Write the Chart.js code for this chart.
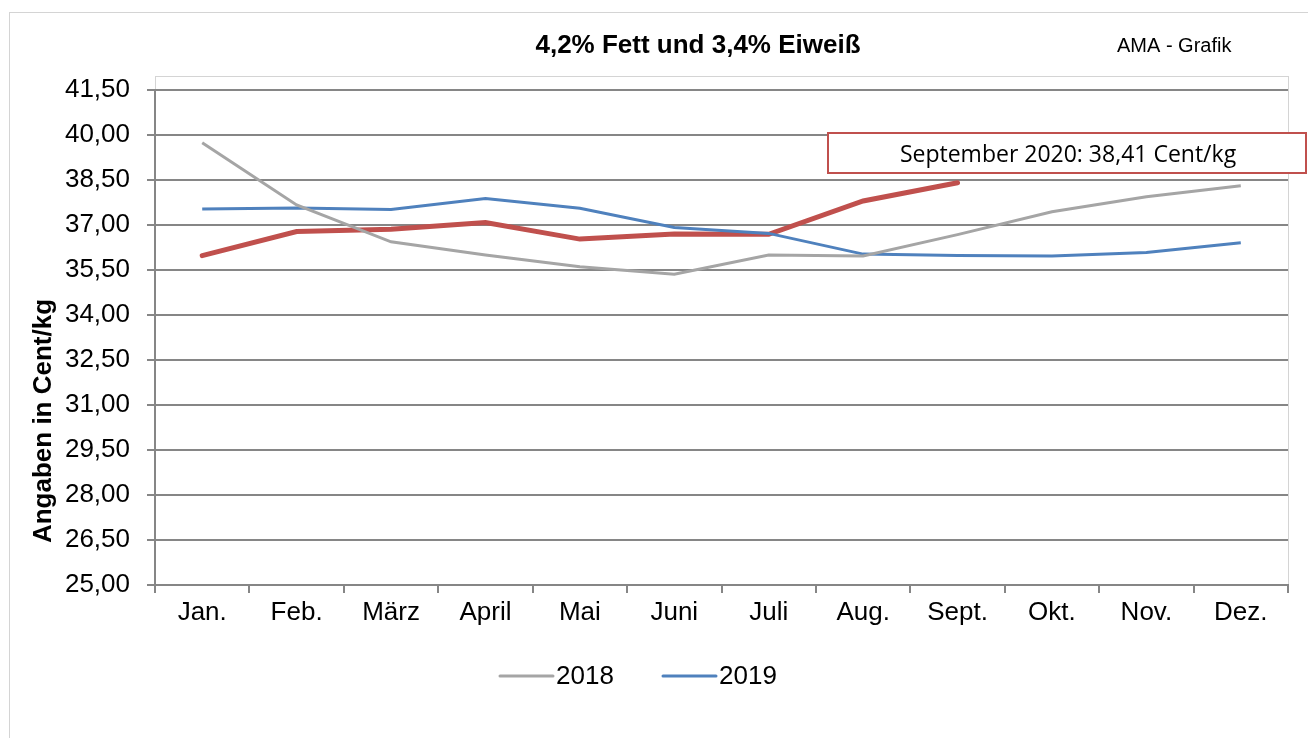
<!DOCTYPE html>
<html>
<head>
<meta charset="utf-8">
<script src="https://cdn.jsdelivr.net/npm/chart.js@4/dist/chart.umd.min.js"></script>
<style>
  html, body { margin: 0; padding: 0; background: #fff; }
  #wrap { width: 1308px; height: 738px; position: relative; }
</style>
</head>
<body>
<div id="wrap"><canvas id="myChart" width="1308" height="738"></canvas></div>
<script>
// Daten (Cent/kg)
const monate = ['Jan.', 'Feb.', 'März', 'April', 'Mai', 'Juni', 'Juli', 'Aug.', 'Sept.', 'Okt.', 'Nov.', 'Dez.'];
const werte2018 = [39.74, 37.67, 36.44, 36.0, 35.61, 35.36, 36.0, 35.97, 36.68, 37.44, 37.94, 38.31];
const werte2019 = [37.53, 37.57, 37.52, 37.88, 37.56, 36.92, 36.72, 36.03, 35.98, 35.97, 36.08, 36.41];
const werte2020 = [35.98, 36.78, 36.86, 37.08, 36.53, 36.7, 36.69, 37.8, 38.41];
const yTicks = [25, 26.5, 28, 29.5, 31, 32.5, 34, 35.5, 37, 38.5, 40, 41.5];

const titel = '4,2% Fett und 3,4% Eiweiß';
const quelle = 'AMA - Grafik';
const hinweis = 'September 2020: 38,41 Cent/kg';
const yTitel = 'Angaben in Cent/kg';

const schrift = '"Liberation Sans", Arial, sans-serif';

// Rahmen, Titel, Legende und Textfeld
const deko = {
  id: 'deko',
  beforeDraw(chart) {
    const c = chart.ctx;
    const a = chart.chartArea;
    c.save();
    c.strokeStyle = '#d4d4d4';
    c.lineWidth = 1;
    c.strokeRect(9.5, 12.5, 1400, 800);
    // Rahmen der Zeichnungsfläche
    c.strokeRect(a.left + 0.5, a.top - 14 + 0.5, a.right - a.left, a.bottom - a.top + 14);
    c.restore();
  },
  afterDraw(chart) {
    const c = chart.ctx;
    c.save();
    c.fillStyle = '#000';
    c.textBaseline = 'middle';
    c.textAlign = 'center';
    c.font = 'bold 26px ' + schrift;
    c.fillText(titel, 698, 46);

    // Achsentitel (sitzt im Original etwas tiefer)
    c.save();
    c.translate(44, 421);
    c.rotate(-Math.PI / 2);
    c.fillText(yTitel, 0, 0);
    c.restore();

    c.font = '20px ' + schrift;
    c.textAlign = 'left';
    c.fillText(quelle, 1117, 46);

    // Textfeld
    c.fillStyle = '#fff';
    c.fillRect(828, 133, 480, 40);
    c.strokeStyle = '#C0504D';
    c.lineWidth = 2;
    c.strokeRect(828, 133, 478, 40);
    c.fillStyle = '#000';
    c.textAlign = 'center';
    c.font = '23px "Open Sans", sans-serif';
    c.fillText(hinweis, 1068, 155);

    // Legende (nur 2018 und 2019)
    const items = [[0, 500], [1, 663]];
    c.font = '26px ' + schrift;
    c.textAlign = 'left';
    items.forEach(([i, x]) => {
      const ds = chart.data.datasets[i];
      c.strokeStyle = ds.borderColor;
      c.lineWidth = 3;
      c.lineCap = 'round';
      c.beginPath();
      c.moveTo(x, 676);
      c.lineTo(x + 53, 676);
      c.stroke();
      c.fillStyle = '#000';
      c.fillText(ds.label, x + 56, 677);
    });
    c.restore();
  }
};

const ctx = document.getElementById('myChart');

const myChart = new Chart(ctx, {
  type: 'line',
  data: {
    labels: monate,
    datasets: [
      { label: '2018', data: werte2018, borderColor: '#A5A5A5', borderWidth: 3, pointRadius: 0, tension: 0 },
      { label: '2019', data: werte2019, borderColor: '#4F81BD', borderWidth: 3, pointRadius: 0, tension: 0 },
      { label: '2020', data: werte2020, borderColor: '#C0504D', borderWidth: 5, pointRadius: 0, tension: 0, borderCapStyle: 'round' }
    ]
  },
  options: {
    responsive: false,
    animation: false,
    layout: { padding: { top: 90, right: 20, bottom: 93, left: 0 } },
    plugins: {
      legend: { display: false },
      title: { display: false },
      tooltip: { enabled: false }
    },
    scales: {
      x: {
        offset: true,
        grid: { offset: true, drawOnChartArea: false, color: '#868686', lineWidth: 2, tickLength: 8 },
        border: { color: '#868686', width: 2 },
        ticks: { color: '#000', font: { family: schrift, size: 26 }, padding: 4, maxRotation: 0, autoSkip: false },
        afterFit(scale) { scale.height = 60; }
      },
      y: {
        min: 25,
        max: 41.5,
        afterBuildTicks(scale) { scale.ticks = yTicks.map(v => ({ value: v })); },
        grid: { color: '#868686', lineWidth: 2, tickLength: 8 },
        border: { color: '#868686', width: 2 },
        ticks: {
          color: '#000',
          font: { family: schrift, size: 26 },
          padding: 17,
          callback: (v) => v.toFixed(2).replace('.', ',')
        },
        title: { display: false },
        afterFit(scale) { scale.width = 155; }
      }
    }
  },
  plugins: [deko]
});
</script>
</body>
</html>
